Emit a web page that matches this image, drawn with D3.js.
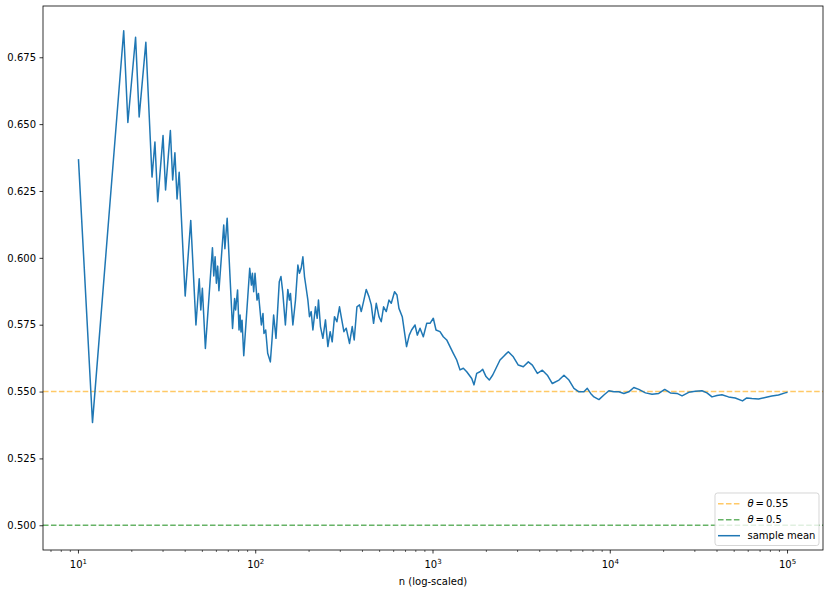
<!DOCTYPE html>
<html>
<head>
<meta charset="utf-8">
<script src="https://d3js.org/d3.v7.min.js"></script>
<style>
  body { margin: 0; background: #fff; }
  svg text { font-family: "DejaVu Sans", sans-serif; font-size: 10px; fill: #000; }
</style>
</head>
<body>
<div id="chart"></div>
<script>
// sample mean (n, value)
var nValues = [
  10, 12, 18, 19, 21, 22, 24, 26, 27, 28,
  30, 31, 33, 34, 35, 36, 37, 40, 43, 46,
  48, 49, 50, 52, 57, 58, 59, 60, 61, 62,
  66, 67, 69, 74, 76, 77, 79, 80.5, 81.6, 82.6,
  83.7, 85.6, 92.5, 94.6, 95.8, 97.4, 99.1, 101.7, 103.6, 105.3,
  107.6, 109.9, 111.3, 113.8, 116.8, 120.9, 123.5, 126.2, 130.1, 135.8,
  138.8, 142, 147, 151.7, 154.9, 157, 162, 167.6, 172.9, 176.5,
  180.4, 184.5, 188.4, 190.8, 196.9, 201, 205.5, 210.1, 217.3, 222.2,
  225.9, 231.8, 239.2, 247.4, 255.3, 263, 270, 278.2, 287, 296.9,
  303.5, 314.3, 323.9, 338.1, 350.2, 359.4, 372.3, 385.1, 393.7, 405.7,
  420.2, 435.2, 448.5, 462.1, 478.6, 495.7, 510.7, 526.3, 545, 564.4,
  581.5, 606.9, 626.2, 642.6, 670.8, 709.4, 734.7, 757.2, 791.6, 815.6,
  845, 881.6, 921.5, 962, 1004, 1040, 1095, 1143, 1195, 1247,
  1302, 1361, 1420, 1483, 1550, 1654, 1703, 1764, 1841, 1907,
  1991, 2078, 2172, 2267, 2388, 2548, 2660, 2838, 3028, 3231,
  3449, 3635, 3879, 4139, 4416, 4711, 5136, 5480, 5847, 6238,
  6656, 7101, 7419, 7751, 8089, 8630, 9207, 9823, 10480, 11180,
  11930, 12730, 13580, 14490, 15790, 17210, 18770, 20280, 21830, 23800,
  25410, 27690, 30200, 32920, 35110, 37490, 39970, 42650, 46450, 50700,
  55720, 58900, 62900, 68600, 74800, 81500, 88900, 96900, 100000];
var meanValues = [
  .6369, .5384, .6849, .6506, .6825, .6527, .6806, .6302, .6433, .6210,
  .6457, .6254, .6476, .6291, .6393, .6220, .6320, .5857, .6140, .5749,
  .5922, .5805, .5886, .5661, .6038, .5932, .6004, .5905, .5969, .5877,
  .6123, .6034, .6148, .5736, .5848, .5805, .5880, .5730, .5786, .5723,
  .5767, .5634, .5961, .5898, .5942, .5873, .5942, .5842, .5867, .5817,
  .5749, .5792, .5717, .5730, .5643, .5611, .5692, .5786, .5699, .5911,
  .5930, .5873, .5749, .5882, .5842, .5867, .5749, .5842, .5973, .5942,
  .5961, .6004, .5930, .5905, .5842, .5780, .5799, .5730, .5817, .5774,
  .5842, .5743, .5699, .5768, .5668, .5724, .5686, .5780, .5761, .5817,
  .5780, .5724, .5737, .5680, .5743, .5693, .5817, .5824, .5799, .5836,
  .5882, .5855, .5824, .5755, .5830, .5780, .5761, .5817, .5799, .5842,
  .5830, .5873, .5861, .5811, .5780, .5668, .5711, .5730, .5749, .5711,
  .5737, .5705, .5755, .5755, .5774, .5730, .5724, .5705, .5693, .5668,
  .5643, .5618, .5581, .5587, .5574, .5549, .5525, .5568, .5574, .5583,
  .5556, .5543, .5562, .5587, .5618, .5637, .5649, .5630, .5599, .5593,
  .5611, .5599, .5568, .5580, .5561, .5530, .5543, .5561, .5543, .5512,
  .5499, .5499, .5512, .5493, .5480, .5470, .5487, .5503, .5499, .5499,
  .5493, .5499, .5515, .5508, .5495, .5490, .5493, .5508, .5495, .5493,
  .5484, .5497, .5501, .5503, .5495, .5480, .5485, .5488, .5480, .5476,
  .5465, .5476, .5474, .5472, .5478, .5483, .5487, .5495, .5497];

var thetaValues = [0.55, 0.5];
var thetaLabels = ["0.55", "0.5"];
var thetaColors = ["orange", "green"];
var yTicks = [0.500, 0.525, 0.550, 0.575, 0.600, 0.625, 0.650, 0.675];
var xTickExps = [1, 2, 3, 4, 5];

var margin = {top: 6, right: 8, bottom: 42, left: 43},
    width = 831 - margin.left - margin.right,
    height = 592 - margin.top - margin.bottom;

var data = nValues.map(function(n, i) { return {n: n, v: meanValues[i]}; });

var x = d3.scaleLog().domain([Math.pow(10, 0.8), Math.pow(10, 5.2)]).range([0, width]);
var y = d3.scaleLinear().domain([0.49075, 0.69417]).range([height, 0]);

var svg = d3.select("#chart").append("svg")
    .attr("width", 831).attr("height", 592)
  .append("g")
    .attr("transform", "translate(" + margin.left + "," + margin.top + ")");

// dashed theta lines
thetaValues.forEach(function(t, i) {
  svg.append("line")
      .attr("x1", 0).attr("x2", width)
      .attr("y1", y(t)).attr("y2", y(t))
      .attr("stroke", thetaColors[i])
      .attr("stroke-opacity", 0.6)
      .attr("stroke-width", 1.5)
      .attr("stroke-dasharray", "5.55,2.4");
});

var line = d3.line()
    .x(function(d) { return x(d.n); })
    .y(function(d) { return y(d.v); });

svg.append("path")
    .datum(data)
    .attr("fill", "none")
    .attr("stroke", "#1f77b4")
    .attr("stroke-width", 1.5)
    .attr("stroke-linejoin", "round")
    .attr("d", line);

// y axis
var yAxis = svg.append("g")
    .call(d3.axisLeft(y).tickValues(yTicks).tickFormat(d3.format(".3f")).tickSize(3.5).tickPadding(3.5));
yAxis.select(".domain").remove();
yAxis.selectAll("line").attr("stroke", "#000").attr("stroke-width", 0.8);
yAxis.selectAll("text").attr("font-family", "DejaVu Sans").attr("font-size", 10).attr("fill", "#000");

// x axis, log ticks
var xg = svg.append("g").attr("transform", "translate(0," + height + ")");
var minor = [];
for (var e = 0; e <= 5; e++) {
  for (var m = 2; m <= 9; m++) {
    var v = m * Math.pow(10, e);
    if (v >= x.domain()[0] && v <= x.domain()[1]) minor.push(v);
  }
}
xg.selectAll(".minor").data(minor).enter().append("line")
    .attr("x1", function(d) { return x(d); }).attr("x2", function(d) { return x(d); })
    .attr("y1", 0).attr("y2", 2)
    .attr("stroke", "#000").attr("stroke-width", 0.6);
var major = xg.selectAll(".major").data(xTickExps).enter().append("g")
    .attr("transform", function(d) { return "translate(" + x(Math.pow(10, d)) + ",0)"; });
major.append("line").attr("y2", 3.5).attr("stroke", "#000").attr("stroke-width", 0.8);
var lab = major.append("text").attr("y", 18).attr("text-anchor", "middle");
lab.append("tspan").text("10");
lab.append("tspan").attr("dy", -4).attr("font-size", 7).text(function(d) { return d; });

svg.append("text")
    .attr("x", width / 2).attr("y", height + 34.5)
    .attr("text-anchor", "middle")
    .text("n (log-scaled)");

// frame
svg.append("rect")
    .attr("width", width).attr("height", height)
    .attr("fill", "none").attr("stroke", "#000").attr("stroke-width", 0.8);

// legend
var legendItems = [
  {theta: thetaLabels[0], color: thetaColors[0], op: 0.6, dash: "5.55,2.4"},
  {theta: thetaLabels[1], color: thetaColors[1], op: 0.6, dash: "5.55,2.4"},
  {label: "sample mean", color: "#1f77b4", op: 1, dash: null}
];
var lg = svg.append("g").attr("transform", "translate(" + (width - 108) + "," + (height - 57) + ")");
lg.append("rect")
    .attr("width", 104).attr("height", 52.5)
    .attr("rx", 2.5)
    .attr("fill", "#fff").attr("fill-opacity", 0.8)
    .attr("stroke", "#ccc").attr("stroke-opacity", 0.8).attr("stroke-width", 1);
var rows = lg.selectAll(".row").data(legendItems).enter().append("g")
    .attr("transform", function(d, i) { return "translate(0," + (10.7 + i * 16) + ")"; });
rows.append("line")
    .attr("x1", 3).attr("x2", 25)
    .attr("stroke", function(d) { return d.color; })
    .attr("stroke-opacity", function(d) { return d.op; })
    .attr("stroke-width", 1.5)
    .attr("stroke-dasharray", function(d) { return d.dash; });
var lt = rows.append("text").attr("x", 32.5).attr("y", 3.6);
lt.filter(function(d) { return d.theta; }).append("tspan").attr("font-style", "italic").text("\u03B8");
lt.append("tspan").text(function(d) { return d.theta ? "\u2009=\u2009" + d.theta : d.label; });
</script>
</body>
</html>
